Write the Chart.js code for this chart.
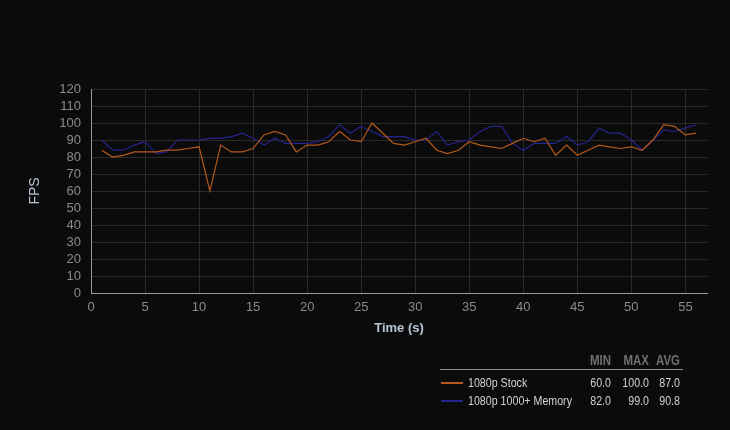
<!DOCTYPE html>
<html>
<head>
<meta charset="utf-8">
<script src="https://cdn.jsdelivr.net/npm/chart.js@4"></script>
<style>
  html, body { margin: 0; padding: 0; background: #0b0b0b; }
  #wrap { position: relative; width: 730px; height: 430px; background: #0b0b0b; overflow: hidden; }
  canvas { position: absolute; left: 0; top: 0; }
  .lg { position: absolute; font-family: 'Liberation Sans', Arial, sans-serif; white-space: nowrap; line-height: 16px; height: 16px; }
  .hd { font-size: 14px; font-weight: bold; color: #707070; text-align: right; transform: scaleX(0.82); transform-origin: right center; }
  .tx { font-size: 13px; color: #d2d2d2; transform: scaleX(0.82); transform-origin: left center; }
  .num { font-size: 13px; color: #d2d2d2; text-align: right; transform: scaleX(0.82); transform-origin: right center; }
  .sw { position: absolute; height: 2px; width: 22px; }
  .rule { position: absolute; height: 1px; background: #8a8a8a; }
</style>
</head>
<body>
<div id="wrap">
  <canvas id="c" width="730" height="430"></canvas>
</div>
<script>
// ---- data ----
const times = [1,2,3,4,5,6,7,8,9,10,11,12,13,14,15,16,17,18,19,20,21,22,23,24,25,26,27,28,
               29,30,31,32,33,34,35,36,37,38,39,40,41,42,43,44,45,46,47,48,49,50,51,52,53,54,55,56];
const stockFps = [84,80,81,83,83,83,84,84,85,86,60,87,83,83,
                  85,93,95,93,83,87,87,89,95,90,89,100,94,88,
                  87,89,91,84,82,84,89,87,86,85,88,91,89,91,
                  81,87,81,84,87,86,85,86,84,90,99,98,93,94];
const memoryFps = [90,84,84,87,89,82,83,90,90,90,91,91,92,94,
                   91,87,91,88,88,88,89,92,99,94,98,95,92,92,
                   92,90,90,95,87,89,90,95,98,98,88,84,88,88,
                   88,92,87,89,97,94,94,90,84,90,96,95,97,99];
const seriesNames = ['1080p Stock', '1080p 1000+ Memory'];
const seriesColors = ['#b5581c', '#25248e'];
const yTicks = [0,10,20,30,40,50,60,70,80,90,100,110,120];
const xTicks = [0,5,10,15,20,25,30,35,40,45,50,55];
const statHeaders = ['MIN', 'MAX', 'AVG'];
const xTitle = 'Time (s)';
const yTitle = 'FPS';

const FONT = "'Liberation Sans', Arial, sans-serif";

const seriesValues = [stockFps, memoryFps];
const datasets = seriesValues.map((vals, i) => ({
  label: seriesNames[i],
  data: times.map((t, k) => ({ x: t, y: vals[k] })),
  borderColor: seriesColors[i],
  backgroundColor: seriesColors[i],
  borderWidth: 1.2,
  pointRadius: 0,
  pointHoverRadius: 0,
  tension: 0,
  fill: false
}));

new Chart(document.getElementById('c'), {
  type: 'line',
  data: { datasets },
  options: {
    responsive: false,
    animation: false,
    events: [],
    layout: { padding: { left: 0, top: 89, right: 23, bottom: 92 } },
    plugins: { legend: { display: false }, tooltip: { enabled: false } },
    scales: {
      x: {
        type: 'linear',
        min: 0,
        max: 57,
        afterFit: s => { s.height = 45; },
        afterBuildTicks: s => { s.ticks = xTicks.map(v => ({ value: v })); },
        ticks: { color: '#8a8a8a', font: { family: FONT, size: 13 }, padding: 7, maxRotation: 0, autoSkip: false, includeBounds: false },
        grid: { color: '#2a2a2a', lineWidth: 1, drawTicks: false },
        border: { color: '#9a9a9a', width: 1 },
        title: { display: true, text: xTitle, color: '#b8c6d4', font: { family: FONT, size: 13, weight: 'bold' }, padding: { top: 0, bottom: 2 } }
      },
      y: {
        type: 'linear',
        min: 0,
        max: 120,
        afterFit: s => { s.width = 91; },
        afterBuildTicks: s => { s.ticks = yTicks.map(v => ({ value: v })); },
        ticks: { color: '#8a8a8a', font: { family: FONT, size: 13 }, padding: 10, autoSkip: false },
        grid: { color: '#2a2a2a', lineWidth: 1, drawTicks: false },
        border: { color: '#9a9a9a', width: 1 },
        title: { display: true, text: yTitle, color: '#b8c6d4', font: { family: FONT, size: 14 }, padding: { top: 27, bottom: 0 } }
      }
    }
  }
});

// ---- stats legend table (HTML text) ----
const wrap = document.getElementById('wrap');
function add(cls, text, style) {
  const d = document.createElement('div');
  d.className = cls;
  if (text !== null) d.textContent = text;
  Object.assign(d.style, style);
  wrap.appendChild(d);
  return d;
}
const colRight = [611, 649, 680];
statHeaders.forEach((h, i) => {
  add('lg hd', h, { left: (colRight[i] - 40) + 'px', width: '40px', top: (360 - 8) + 'px' });
});
add('rule', null, { left: '440px', width: '243px', top: '369px' });
const rowY = [383, 401];
seriesValues.forEach((vals, i) => {
  const mn = Math.min(...vals), mx = Math.max(...vals);
  const avg = vals.reduce((a, b) => a + b, 0) / vals.length;
  const y = rowY[i];
  add('sw', null, { left: '441px', top: (y - 1) + 'px', background: seriesColors[i] });
  add('lg tx', seriesNames[i], { left: '468px', top: (y - 8) + 'px' });
  [mn, mx, avg].forEach((v, j) => {
    add('lg num', v.toFixed(1), { left: (colRight[j] - 40) + 'px', width: '40px', top: (y - 8) + 'px' });
  });
});
</script>
</body>
</html>
